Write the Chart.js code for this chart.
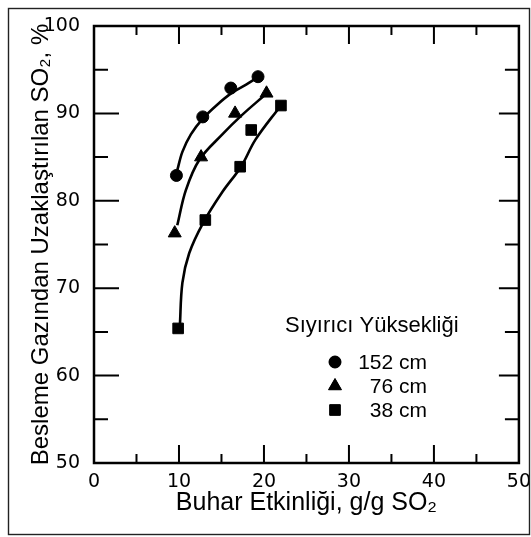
<!DOCTYPE html>
<html>
<head>
<meta charset="utf-8">
<script src="https://cdn.jsdelivr.net/npm/chart.js@4/dist/chart.umd.min.js"></script>
<style>
  html, body { margin: 0; padding: 0; background: #fff; }
  #wrap { width: 531px; height: 537px; }
</style>
</head>
<body>
<div id="wrap"><canvas id="chart" width="531" height="537"></canvas></div>
<script>
// measured points, one pair of arrays per stripper height
const heights = ['152 cm', '76 cm', '38 cm'];
const pointStyles = ['circle', 'triangle', 'rect'];

const x152 = [9.7, 12.8, 16.1, 19.3];
const y152 = [82.9, 89.6, 92.9, 94.2];
const x76 = [9.5, 12.6, 16.6, 20.3];
const y76 = [76.3, 85.0, 90.0, 92.3];
const x38 = [9.9, 13.1, 17.2, 18.5, 22.0];
const y38 = [65.4, 77.8, 83.9, 88.1, 90.9];

// hand-drawn fit curves
const fitX152 = [9.8, 10.4, 11.4, 12.8, 14.5, 16.3, 17.9, 19.4];
const fitY152 = [83.5, 85.6, 87.6, 89.4, 91.0, 92.4, 93.3, 94.2];
const fitX76 = [9.8, 10.8, 12.4, 15.1, 17.4, 20.1];
const fitY76 = [77.2, 81.2, 84.7, 87.6, 89.8, 92.1];
const fitX38 = [10.1, 10.4, 11.2, 12.8, 15.1, 17.3, 19.0, 21.9];
const fitY38 = [65.6, 70.6, 74.0, 77.4, 81.0, 83.9, 87.0, 90.8];

const xTicks = [0, 10, 20, 30, 40, 50];
const yTicks = [50, 60, 70, 80, 90, 100];

const legendTitle = 'Sıyırıcı Yüksekliği';
const xTitle = 'Buhar Etkinliği, g/g SO₂';
const yTitle = 'Besleme Gazından Uzaklaştırılan SO₂, %';

const pairs = (xs, ys) => xs.map((x, i) => ({ x: x, y: ys[i] }));

const markerSet = (label, xs, ys, style, radius) => ({
    label: label,
    data: pairs(xs, ys),
    showLine: false,
    pointStyle: style,
    pointRadius: radius,
    pointBackgroundColor: '#000',
    pointBorderColor: '#000',
    pointBorderWidth: 1
});

const curveSet = (xs, ys) => ({
    label: 'fit',
    data: pairs(xs, ys),
    showLine: true,
    borderColor: '#000',
    borderWidth: 2.6,
    pointRadius: 0,
    tension: 0.35,
    fill: false
});

// page frame + box + inward ticks
const frameTicks = {
    id: 'frameTicks',
    afterDraw(chart) {
        const { ctx, chartArea: a, scales } = chart;
        ctx.save();
        ctx.strokeStyle = '#222';
        ctx.lineWidth = 1.4;
        ctx.strokeRect(8.5, 8.5, 521, 526);

        ctx.strokeStyle = '#000';
        ctx.lineWidth = 2.5;
        ctx.strokeRect(a.left, a.top, a.right - a.left, a.bottom - a.top);

        ctx.lineWidth = 2;
        for (let v = 5; v < 50; v += 5) {
            const px = scales.x.getPixelForValue(v);
            const len = v % 10 === 0 ? 18 : 9;
            ctx.beginPath();
            ctx.moveTo(px, a.bottom); ctx.lineTo(px, a.bottom - len);
            ctx.moveTo(px, a.top); ctx.lineTo(px, a.top + len);
            ctx.stroke();
        }
        for (let v = 55; v < 100; v += 5) {
            const py = scales.y.getPixelForValue(v);
            const major = v % 10 === 0;
            ctx.beginPath();
            ctx.moveTo(a.left, py); ctx.lineTo(a.left + (major ? 25 : 14), py);
            ctx.moveTo(a.right, py); ctx.lineTo(a.right - (major ? 20 : 14), py);
            ctx.stroke();
        }
        ctx.restore();
    }
};

// legend box inside the plot, lower right
const markerLegend = {
    id: 'markerLegend',
    afterDraw(chart) {
        const { ctx } = chart;
        ctx.save();
        ctx.fillStyle = '#000';
        ctx.font = '22px "Liberation Sans", Arial, sans-serif';
        ctx.textBaseline = 'middle';
        ctx.textAlign = 'left';
        ctx.fillText(legendTitle, 285, 326);
        ctx.font = '21px "Liberation Sans", Arial, sans-serif';
        ctx.textAlign = 'right';
        heights.forEach((h, i) => {
            const ds = chart.data.datasets[i];
            const y = 362 + i * 24;
            Chart.helpers.drawPoint(ctx, {
                pointStyle: ds.pointStyle,
                radius: ds.pointRadius,
                borderWidth: 1,
                rotation: 0
            }, 335, y);
            ctx.fill();
            ctx.fillText(h, 427, y + 1);
        });
        ctx.restore();
    }
};

new Chart(document.getElementById('chart'), {
    type: 'scatter',
    data: {
        datasets: [
            markerSet(heights[0], x152, y152, pointStyles[0], 6),
            markerSet(heights[1], x76, y76, pointStyles[1], 7.5),
            markerSet(heights[2], x38, y38, pointStyles[2], 7.5),
            curveSet(fitX152, fitY152),
            curveSet(fitX76, fitY76),
            curveSet(fitX38, fitY38)
        ]
    },
    options: {
        responsive: false,
        animation: false,
        layout: { padding: { left: 0, top: 26, right: 9, bottom: 0 } },
        plugins: {
            legend: { display: false },
            tooltip: { enabled: false }
        },
        scales: {
            x: {
                type: 'linear',
                min: 0,
                max: 50,
                afterBuildTicks: (s) => { s.ticks = xTicks.map(v => ({ value: v })); },
                afterFit: (s) => { s.height = 74; },
                grid: { display: false },
                border: { display: false },
                ticks: {
                    color: '#000',
                    padding: 0,
                    font: { family: '"DejaVu Sans", sans-serif', size: 19 }
                },
                title: {
                    display: true,
                    text: xTitle,
                    color: '#000',
                    padding: { top: 0, bottom: 19 },
                    font: { family: '"Liberation Sans", Arial, sans-serif', size: 25 }
                }
            },
            y: {
                type: 'linear',
                min: 50,
                max: 100,
                afterBuildTicks: (s) => { s.ticks = yTicks.map(v => ({ value: v })); },
                afterFit: (s) => { s.width = 94; },
                grid: { display: false },
                border: { display: false },
                ticks: {
                    color: '#000',
                    padding: 6,
                    font: { family: '"DejaVu Sans", sans-serif', size: 19 }
                },
                title: {
                    display: true,
                    text: yTitle,
                    color: '#000',
                    padding: { top: 27, bottom: 0 },
                    font: { family: '"Liberation Sans", Arial, sans-serif', size: 24 }
                }
            }
        }
    },
    plugins: [frameTicks, markerLegend]
});
</script>
</body>
</html>
